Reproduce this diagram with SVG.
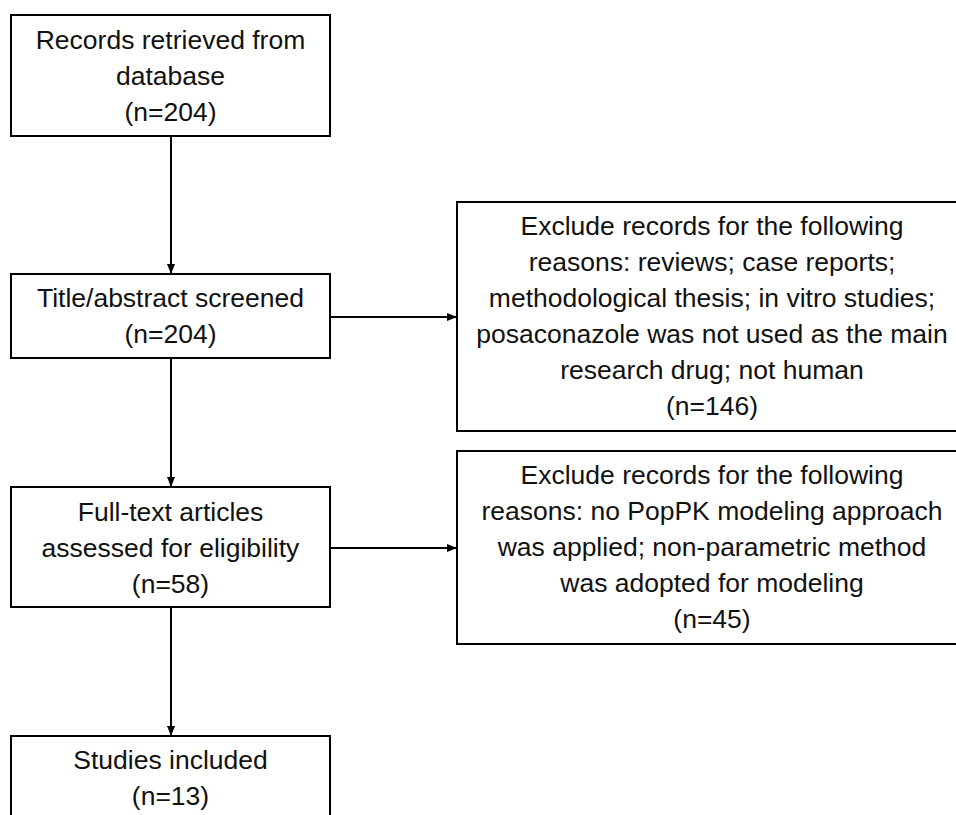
<svg xmlns="http://www.w3.org/2000/svg" width="956" height="815" viewBox="0 0 956 815">
<style>
.box{fill:#fff;stroke:#000;stroke-width:2}
.t{font-family:"Liberation Sans",Arial,sans-serif;font-size:26.5px;fill:#111;text-anchor:middle}
.c{stroke:#000;stroke-width:2;fill:none}
</style>
<defs>
<marker id="ah" markerWidth="10" markerHeight="8" refX="10" refY="4" orient="auto" markerUnits="userSpaceOnUse">
<path d="M0,0 L10,4 L0,8 Z" fill="#000"/>
</marker>
</defs>
<rect width="956" height="815" fill="#fff"/>
<g id="connectors">
<line class="c" x1="171" y1="136" x2="171" y2="274" marker-end="url(#ah)"/>
<line class="c" x1="171" y1="358" x2="171" y2="487" marker-end="url(#ah)"/>
<line class="c" x1="171" y1="607" x2="171" y2="736" marker-end="url(#ah)"/>
<line class="c" x1="330" y1="317" x2="457" y2="317" marker-end="url(#ah)"/>
<line class="c" x1="330" y1="548" x2="457" y2="548" marker-end="url(#ah)"/>
</g>
<g id="records">
<rect class="box" x="11" y="15" width="319" height="121"/>
<text class="t" x="170.5" y="49">Records retrieved from</text>
<text class="t" x="170.5" y="85">database</text>
<text class="t" x="170.5" y="121">(n=204)</text>
</g>
<g id="screened">
<rect class="box" x="11" y="274" width="319" height="84"/>
<text class="t" x="170.5" y="307">Title/abstract screened</text>
<text class="t" x="170.5" y="343">(n=204)</text>
</g>
<g id="fulltext">
<rect class="box" x="11" y="487" width="319" height="120"/>
<text class="t" x="170.5" y="521">Full-text articles</text>
<text class="t" x="170.5" y="557">assessed for eligibility</text>
<text class="t" x="170.5" y="593">(n=58)</text>
</g>
<g id="included">
<rect class="box" x="11" y="736" width="319" height="100"/>
<text class="t" x="170.5" y="769">Studies included</text>
<text class="t" x="170.5" y="805">(n=13)</text>
</g>
<g id="exclude1">
<rect class="box" x="457" y="202" width="511" height="229"/>
<text class="t" x="712" y="235">Exclude records for the following</text>
<text class="t" x="712" y="271">reasons: reviews; case reports;</text>
<text class="t" x="712" y="307">methodological thesis; in vitro studies;</text>
<text class="t" x="712" y="343">posaconazole was not used as the main</text>
<text class="t" x="712" y="379">research drug; not human</text>
<text class="t" x="712" y="415">(n=146)</text>
</g>
<g id="exclude2">
<rect class="box" x="457" y="451" width="511" height="193"/>
<text class="t" x="712" y="484">Exclude records for the following</text>
<text class="t" x="712" y="520">reasons: no PopPK modeling approach</text>
<text class="t" x="712" y="556">was applied; non-parametric method</text>
<text class="t" x="712" y="592">was adopted for modeling</text>
<text class="t" x="712" y="628">(n=45)</text>
</g>
</svg>
